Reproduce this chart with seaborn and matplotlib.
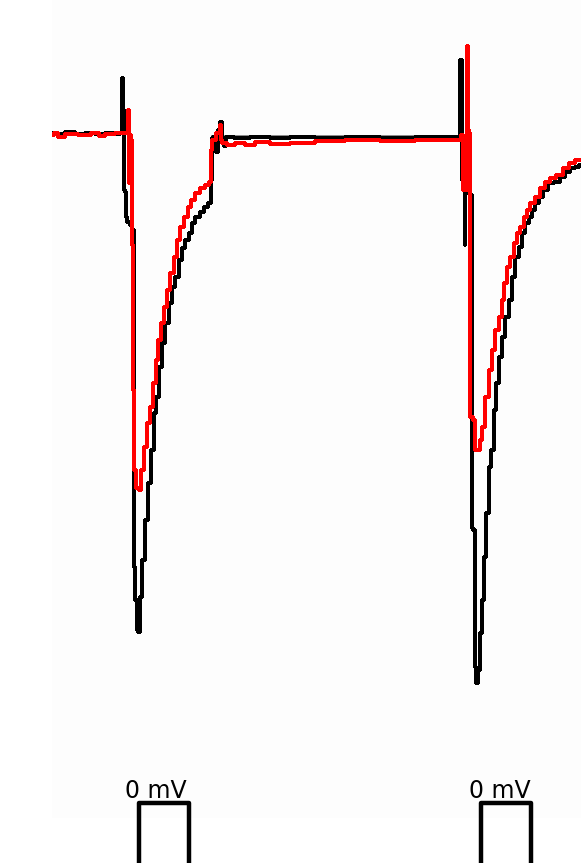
import matplotlib
matplotlib.use("Agg")
import matplotlib.pyplot as plt
import numpy as np
import pandas as pd
import seaborn as sns

# Whole-cell current traces: time (ms) and current (nA)
control_t = [0.0, 1.6, 3.6, 5.6, 7.6, 9.6, 11.6, 13.2, 13.8, 14.0, 14.2, 14.4, 14.8, 14.8,
             15.2, 15.8, 16.2, 16.4, 16.8, 17.0, 17.4, 17.8, 18.2, 18.8, 19.4, 20.0, 20.6,
             21.0, 21.6, 22.2, 23.0, 23.6, 24.2, 25.0, 25.6, 26.2, 27.0, 27.6, 28.2, 29.0,
             30.0, 30.6, 31.6, 31.8, 32.0, 32.4, 32.6, 33.0, 33.4, 33.8, 34.0, 34.6, 35.0,
             37.6, 41.6, 45.6, 49.6, 55.6, 61.6, 69.6, 75.6, 81.2, 81.6, 81.8, 82.0, 82.4,
             82.6, 82.8, 83.0, 83.2, 83.8, 84.0, 84.4, 84.6, 85.0, 85.4, 85.6, 86.2, 86.6,
             87.0, 87.6, 88.0, 88.6, 89.0, 89.6, 90.2, 91.0, 91.6, 92.2, 93.0, 93.6, 94.2,
             95.0, 95.6, 96.2, 97.0, 97.6, 98.6, 99.6, 101.0, 102.2, 103.0, 104.0, 105.0, 105.8]
control_i = [0.0, -0.01, 0.01, -0.01, 0.0, -0.01, 0.0, -0.01, 0.0, 0.55, 0.23, -0.57, -0.59,
             -0.84, -0.89, -0.92, -0.97, -4.34, -4.67, -4.97, -4.99, -4.64, -4.27, -3.87,
             -3.50, -3.17, -2.80, -2.64, -2.34, -2.10, -1.90, -1.70, -1.54, -1.44, -1.27,
             -1.15, -1.07, -1.00, -0.90, -0.84, -0.79, -0.74, -0.70, -0.47, -0.05, -0.04,
             -0.17, -0.19, 0.03, 0.11, -0.07, -0.13, -0.04, -0.05, -0.04, -0.05, -0.04,
             -0.05, -0.04, -0.05, -0.04, -0.04, -0.04, 0.73, -0.47, -0.57, -1.12, -0.60,
             0.05, -0.60, -0.62, -3.95, -3.97, -5.34, -5.50, -5.37, -5.00, -4.67, -4.24,
             -3.80, -3.34, -3.17, -2.77, -2.50, -2.24, -2.04, -1.84, -1.67, -1.44, -1.24,
             -1.14, -1.00, -0.90, -0.84, -0.77, -0.70, -0.64, -0.57, -0.50, -0.49, -0.44,
             -0.39, -0.35, -0.34, -0.32]

drug_t = [0.0, 0.6, 1.6, 3.6, 6.6, 9.0, 9.6, 11.6, 13.6, 15.0, 15.2, 15.4, 15.6, 15.8, 16.0,
          16.2, 16.6, 17.0, 17.6, 18.0, 18.6, 19.2, 19.8, 20.4, 21.0, 21.4, 22.0, 22.6, 23.2,
          24.0, 24.6, 25.2, 26.0, 26.8, 27.4, 28.0, 29.0, 30.0, 31.0, 31.6, 31.8, 32.2, 33.4,
          33.6, 33.8, 34.4, 35.6, 37.6, 39.6, 41.6, 45.6, 49.6, 55.6, 61.6, 69.6, 75.6, 81.6,
          82.0, 82.2, 82.8, 83.0, 83.2, 83.6, 83.8, 84.4, 84.8, 85.4, 85.8, 86.2, 87.0, 87.6,
          88.2, 89.0, 89.6, 90.2, 90.6, 91.2, 92.0, 92.6, 93.2, 94.0, 94.6, 95.2, 96.0, 97.0,
          98.0, 99.0, 100.0, 101.6, 102.6, 104.0, 105.0, 105.8]
drug_i = [-0.02, 0.0, -0.04, -0.01, -0.02, 0.0, -0.03, -0.01, 0.0, 0.0, 0.23, -0.50, -0.02,
          -0.07, -1.12, -2.57, -3.37, -3.55, -3.57, -3.37, -3.14, -2.90, -2.74, -2.50, -2.27,
          -2.07, -1.90, -1.74, -1.57, -1.40, -1.24, -1.07, -0.94, -0.84, -0.74, -0.67, -0.60,
          -0.55, -0.52, -0.49, -0.17, -0.07, 0.0, 0.08, -0.07, -0.10, -0.12, -0.10, -0.12,
          -0.09, -0.11, -0.10, -0.08, -0.07, -0.08, -0.07, -0.07, -0.02, -0.57, -0.57, 0.87,
          0.03, 0.0, -2.84, -2.87, -3.17, -3.17, -3.07, -2.94, -2.64, -2.37, -2.17, -1.97,
          -1.84, -1.67, -1.50, -1.34, -1.24, -1.10, -1.00, -0.94, -0.84, -0.77, -0.70, -0.64,
          -0.55, -0.49, -0.45, -0.42, -0.35, -0.30, -0.27, -0.27]

washout_t = [32.0, 45.0, 60.0, 75.0, 81.6]
washout_i = [-0.035, -0.035, -0.035, -0.035, -0.035]

# Voltage protocol: time (ms) and command potential (mV)
protocol_t = [0.0, 17.4, 17.4, 27.4, 27.4, 85.8, 85.8, 95.8, 95.8, 105.8]
protocol_v = [-100, -100, 0, 0, -100, -100, 0, 0, -100, -100]
step_label = "0 mV"
step_label_t = [20.8, 89.5]

sns.set_theme(style="white")
plt.rcParams["font.family"] = ["DejaVu Sans"]

W, H = 581, 863
fig = plt.figure(figsize=(W / 100, H / 100), dpi=100, facecolor="white")

ax = fig.add_axes([52 / W, 45 / H, 529 / W, 818 / H])
ax.set_facecolor("#fdfdfd")

traces = [
    (washout_t, washout_i, "#8c8c8c", 1.4),
    (control_t, control_i, "black", 1.45),
    (drug_t, drug_i, "red", 1.45),
]
for t, i, color, lw in traces:
    df = pd.DataFrame({"t": t, "i": i})
    sns.lineplot(data=df, x="t", y="i", sort=False, estimator=None,
                 color=color, linewidth=lw, drawstyle="steps-mid",
                 antialiased=False, ax=ax)

ax.set_xlim(0, 105.8)
ax.set_ylim(-6.85, 1.33)
ax.set_xticks([])
ax.set_yticks([])
ax.set_xlabel("")
ax.set_ylabel("")
for s in ax.spines.values():
    s.set_visible(False)

pax = fig.add_axes([52 / W, 0, 529 / W, 90 / H])
pax.patch.set_alpha(0)
pdf = pd.DataFrame({"t": protocol_t, "v": protocol_v})
sns.lineplot(data=pdf, x="t", y="v", sort=False, estimator=None,
             color="black", linewidth=3.2, ax=pax)
pax.set_xlim(0, 105.8)
pax.set_ylim(-60, 30)
pax.set_xticks([])
pax.set_yticks([])
pax.set_xlabel("")
pax.set_ylabel("")
for s in pax.spines.values():
    s.set_visible(False)
for tx in step_label_t:
    pax.text(tx, 5, step_label, ha="center", va="baseline", fontsize=17, color="black")

fig.savefig("out.png", dpi=100, facecolor="white")
